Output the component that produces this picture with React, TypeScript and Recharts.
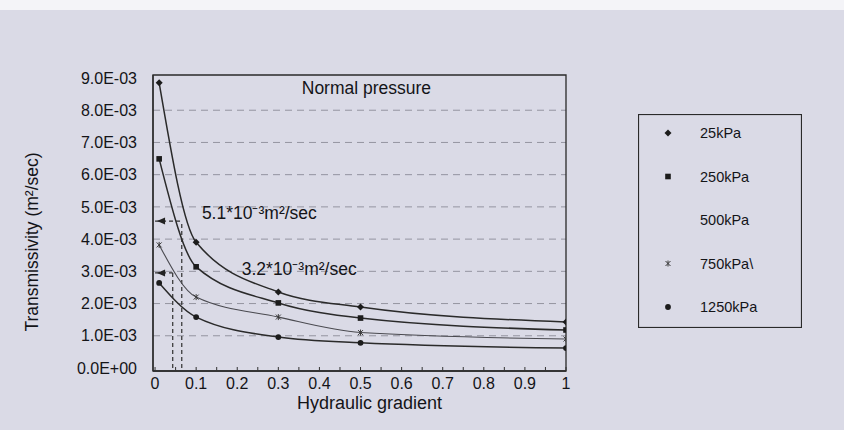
import React from 'react';
import {
  LineChart,
  Line,
  XAxis,
  YAxis,
  CartesianGrid,
  ReferenceLine,
  ReferenceDot,
  ReferenceArea,
  Legend,
} from 'recharts';

// ---------- data ----------
const gradients = [0.01, 0.1, 0.3, 0.5, 1.0];
const t25kPa = [8.85e-3, 3.9e-3, 2.36e-3, 1.89e-3, 1.43e-3];
const t250kPa = [6.49e-3, 3.14e-3, 2.02e-3, 1.55e-3, 1.18e-3];
const t750kPa = [3.82e-3, 2.2e-3, 1.58e-3, 1.1e-3, 0.9e-3];
const t1250kPa = [2.64e-3, 1.58e-3, 0.96e-3, 0.78e-3, 0.62e-3];

const legendLabels = ['25kPa', '250kPa', '500kPa', '750kPa\\', '1250kPa'];
const legendMarkers = ['diamond', 'square', 'none', 'star', 'circle'];

const xTicks = [0, 0.05, 0.1, 0.15, 0.2, 0.25, 0.3, 0.35, 0.4, 0.45, 0.5, 0.55, 0.6, 0.65, 0.7, 0.75, 0.8, 0.85, 0.9, 0.95, 1];
const yTicks = [0, 0.001, 0.002, 0.003, 0.004, 0.005, 0.006, 0.007, 0.008, 0.009];
const gridLevels = [0.001, 0.002, 0.003, 0.004, 0.005, 0.006, 0.007, 0.008];

// axis ranges (slightly padded around 0..1 and 0..9E-03)
const xDomain = [-0.005, 1];
const yDomain = [-0.000093, 0.009093];

// annotation values (data space)
const arrowLevels = [4.56e-3, 2.95e-3];
const arrowGradients = [0.065, 0.043];
const noteTexts = ['Normal pressure', '5.1*10\u207B\u00B3m\u00B2/sec', '3.2*10\u207B\u00B3m\u00B2/sec'];
const noteX = [0.357, 0.114, 0.211];
const noteY = [8.7e-3, 4.81e-3, 3.07e-3];

const rows = gradients.map((g, i) => ({
  g,
  p25: t25kPa[i],
  p250: t250kPa[i],
  p750: t750kPa[i],
  p1250: t1250kPa[i],
}));

const FONT = '"Liberation Sans", Arial, sans-serif';
const INK = '#141418';
const BG = '#dadae6';

function fmtExp(v: number): string {
  if (v === 0) return '0.0E+00';
  const e = Math.floor(Math.log10(Math.abs(v)) + 1e-9);
  const m = v / Math.pow(10, e);
  const sign = e < 0 ? '-' : '+';
  const ae = Math.abs(e);
  return `${m.toFixed(1)}E${sign}${ae < 10 ? '0' : ''}${ae}`;
}

function Marker({ kind, cx, cy }: { kind: string; cx: number; cy: number }) {
  if (cx == null || cy == null) return <g />;
  switch (kind) {
    case 'diamond':
      return (
        <polygon
          points={`${cx},${cy - 3.5} ${cx + 3.5},${cy} ${cx},${cy + 3.5} ${cx - 3.5},${cy}`}
          fill="#1c1c1c"
        />
      );
    case 'square':
      return <rect x={cx - 2.8} y={cy - 2.8} width={5.6} height={5.6} fill="#1c1c1c" />;
    case 'circle':
      return <circle cx={cx} cy={cy} r={2.9} fill="#1c1c1c" />;
    case 'star':
      return (
        <g stroke="#3a3a3a" strokeWidth={1}>
          <line x1={cx - 2.5} y1={cy - 2.5} x2={cx + 2.5} y2={cy + 2.5} />
          <line x1={cx - 2.5} y1={cy + 2.5} x2={cx + 2.5} y2={cy - 2.5} />
          <line x1={cx} y1={cy - 3} x2={cx} y2={cy + 3} />
        </g>
      );
    default:
      return <g />;
  }
}

const makeDot = (kind: string) => (p: any) => (
  <Marker key={`${kind}-${p.index}`} kind={kind} cx={p.cx} cy={p.cy} />
);

const XTick = (props: any) => {
  const { x, y, payload } = props;
  const v: number = payload.value;
  const major = Math.round(v * 100) % 10 === 0;
  const label = v === 0 ? '0' : v === 1 ? '1' : v.toFixed(1);
  return (
    <g>
      <line x1={x} y1={y} x2={x} y2={y - 4} stroke="#333" strokeWidth={1} />
      {major && (
        <text x={x} y={y + 18} textAnchor="middle" fontSize={16} fill={INK} fontFamily={FONT}>
          {label}
        </text>
      )}
    </g>
  );
};

const LegendBox = () => (
  <svg width={164} height={214} style={{ display: 'block' }}>
    <rect x={0.5} y={0.5} width={163} height={213} fill="none" stroke="#2a2a2a" strokeWidth={1.2} />
    {legendLabels.map((lab, i) => {
      const cy = 19 + i * 43.5;
      return (
        <g key={lab}>
          <Marker kind={legendMarkers[i]} cx={30} cy={cy} />
          <text x={62} y={cy + 5} fontSize={14.5} fill={INK} fontFamily={FONT}>
            {lab}
          </text>
        </g>
      );
    })}
  </svg>
);

export default function App() {
  return (
    <div
      style={{
        position: 'absolute',
        left: 0,
        top: 0,
        width: 844,
        height: 430,
        background: '#f4f4f8',
        overflow: 'hidden',
      }}
    >
      <div style={{ position: 'absolute', left: 0, top: 10, width: 844, height: 420, background: BG }}>
        <LineChart
          width={844}
          height={420}
          data={rows}
          margin={{ top: 65, right: 278, bottom: 0, left: 0 }}
        >
          <CartesianGrid
            vertical={false}
            horizontal={true}
            horizontalValues={gridLevels}
            stroke="#9494a0"
            strokeDasharray="7 5"
            strokeWidth={1}
          />
          <ReferenceArea
            x1={xDomain[0]}
            x2={xDomain[1]}
            y1={yDomain[0]}
            y2={yDomain[1]}
            fill="none"
            stroke="#2a2a2a"
            strokeWidth={1.3}
            ifOverflow="visible"
          />
          <XAxis
            dataKey="g"
            type="number"
            domain={xDomain}
            allowDataOverflow={true}
            ticks={xTicks}
            interval={0}
            height={59}
            tickSize={0}
            tickMargin={0}
            tickLine={false}
            axisLine={{ stroke: '#2a2a2a', strokeWidth: 1.3 }}
            tick={<XTick />}
            label={{
              content: (p: any) => {
                const vb = p.viewBox || { x: 153, y: 361, width: 413 };
                return (
                  <text
                    x={vb.x + vb.width / 2 + 10}
                    y={vb.y + 38}
                    textAnchor="middle"
                    fontSize={18}
                    fill={INK}
                    fontFamily={FONT}
                  >
                    Hydraulic gradient
                  </text>
                );
              },
            }}
          />
          <YAxis
            type="number"
            domain={yDomain}
            allowDataOverflow={true}
            ticks={yTicks}
            interval={0}
            width={153}
            tickSize={0}
            tickMargin={16}
            tickLine={false}
            tickFormatter={fmtExp}
            tick={{ fontSize: 16, fill: INK, fontFamily: FONT }}
            axisLine={{ stroke: '#2a2a2a', strokeWidth: 1.3 }}
            label={{
              content: (p: any) => {
                const vb = p.viewBox || { x: 0, y: 65, height: 296 };
                const cx = 32;
                const cy = vb.y + vb.height / 2 + 19;
                return (
                  <text
                    x={cx}
                    y={cy}
                    transform={`rotate(-90 ${cx} ${cy})`}
                    textAnchor="middle"
                    dominantBaseline="central"
                    fontSize={17.5}
                    fill={INK}
                    fontFamily={FONT}
                  >
                    Transmissivity (m²/sec)
                  </text>
                );
              },
            }}
          />

          {arrowLevels.map((lv, i) => (
            <ReferenceLine
              key={`h${i}`}
              segment={[
                { x: 0, y: lv },
                { x: arrowGradients[i], y: lv },
              ]}
              stroke="#2f2f2f"
              strokeDasharray="4 3"
              strokeWidth={1.2}
              ifOverflow="visible"
            />
          ))}
          {arrowLevels.map((lv, i) => (
            <ReferenceLine
              key={`v${i}`}
              segment={[
                { x: arrowGradients[i], y: 0 },
                { x: arrowGradients[i], y: lv },
              ]}
              stroke="#2f2f2f"
              strokeDasharray="4 3"
              strokeWidth={1.2}
              ifOverflow="visible"
            />
          ))}
          {arrowLevels.map((lv, i) => (
            <ReferenceDot
              key={`a${i}`}
              x={0}
              y={lv}
              r={0}
              ifOverflow="visible"
              shape={(p: any) => (
                <polygon
                  points={`${p.cx + 2},${p.cy} ${p.cx + 10},${p.cy - 3.5} ${p.cx + 10},${p.cy + 3.5}`}
                  fill="#222"
                />
              )}
            />
          ))}
          {noteTexts.map((t, i) => (
            <ReferenceDot
              key={`n${i}`}
              x={noteX[i]}
              y={noteY[i]}
              r={0}
              ifOverflow="visible"
              shape={(p: any) => (
                <text
                  x={p.cx}
                  y={p.cy}
                  dominantBaseline="central"
                  fontSize={17.5}
                  fill={INK}
                  fontFamily={FONT}
                >
                  {t}
                </text>
              )}
            />
          ))}

          <Line
            dataKey="p25"
            name="25kPa"
            type="monotone"
            stroke="#2a2a2a"
            strokeWidth={1.5}
            dot={makeDot('diamond')}
            activeDot={false}
            isAnimationActive={false}
          />
          <Line
            dataKey="p250"
            name="250kPa"
            type="monotone"
            stroke="#2a2a2a"
            strokeWidth={1.5}
            dot={makeDot('square')}
            activeDot={false}
            isAnimationActive={false}
          />
          <Line
            dataKey="p750"
            name="750kPa"
            type="monotone"
            stroke="#4a4a50"
            strokeWidth={1.1}
            dot={makeDot('star')}
            activeDot={false}
            isAnimationActive={false}
          />
          <Line
            dataKey="p1250"
            name="1250kPa"
            type="monotone"
            stroke="#2a2a2a"
            strokeWidth={1.5}
            dot={makeDot('circle')}
            activeDot={false}
            isAnimationActive={false}
          />

          <Legend
            layout="horizontal"
            verticalAlign="middle"
            align="center"
            content={() => <LegendBox />}
            wrapperStyle={{ position: 'absolute', left: 638, top: 104, width: 164, height: 214 }}
          />
        </LineChart>
      </div>
    </div>
  );
}
